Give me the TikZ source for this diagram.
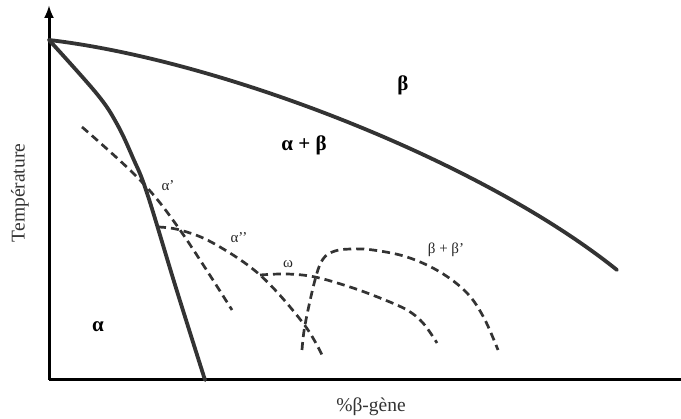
\documentclass[tikz,border=0pt]{standalone}
\usepackage{fontspec}
\setmainfont{Liberation Serif}
\usetikzlibrary{arrows.meta}
\definecolor{curve}{HTML}{333333}
\tikzset{
  axis/.style={line width=3pt, black},
  solidcurve/.style={line width=3.8pt, curve, line cap=round, line join=round},
  dashcurve/.style={line width=2.7pt, curve, dash pattern=on 8pt off 5pt},
  phase/.style={font=\fontsize{21}{24}\selectfont\bfseries, inner sep=0pt},
  small/.style={font=\fontsize{15}{17}\selectfont, inner sep=0pt, text=black!85},
  axlabel/.style={font=\fontsize{19.5}{22}\selectfont, inner sep=0pt, text=black!80}
}
\begin{document}
\begin{tikzpicture}[x=1pt,y=-1pt]
\useasboundingbox (0,0) rectangle (681,419);
\fill[white] (0,0) rectangle (681,419);
% axes
\coordinate (O) at (49,380);
\coordinate (ytop) at (49,5);
\coordinate (xend) at (681,380);
\draw[axis, -{Latex[length=13pt,width=10pt]}] (O) -- (ytop);
\draw[axis] (O) -- (xend);
% solid curves
\coordinate (top) at (49,40);
\coordinate (bend) at (617,270);
\coordinate (foot) at (205,380);
\draw[solidcurve] (top) .. controls (220,60) and (480,160) .. (bend);
\draw[solidcurve] plot[smooth, tension=0.6] coordinates {(49,40) (97,94) (117,124) (133,158) (147,193) (176,288) (205,380)};
% dashed curves
\draw[dashcurve] plot[smooth, tension=0.6] coordinates {(82,127) (140,180) (180,230) (232,310)};
\draw[dashcurve] plot[smooth, tension=0.6] coordinates {(158,227) (180,230) (213,243) (260,275) (303,323) (322,355)};
\draw[dashcurve] plot[smooth, tension=0.6] coordinates {(260,275) (287,274) (315,277) (350,287) (380,298) (407,310) (423,323) (437,343)};
\draw[dashcurve] plot[smooth, tension=0.6] coordinates {(302,350) (305,325) (315,280) (323,259) (335,251) (352,249) (373,250) (407,257) (440,272) (467,293) (484,318) (498,350)};
% labels
\node[phase] (beta) at (403,85) {β};
\node[phase] (ab) at (304,145) {α + β};
\node[phase] (alpha) at (98,327) {α};
\node[small] (a1) at (168,186) {α’};
\node[small] (a2) at (239,238) {α’’};
\node[small] (om) at (288,264) {ω};
\node[small] (bb) at (446,250) {β + β’};
\node[axlabel, rotate=90] (ylab) at (20,193) {Température};
\node[axlabel] (xlab) at (371,407) {\%β-gène};
\end{tikzpicture}
\end{document}
